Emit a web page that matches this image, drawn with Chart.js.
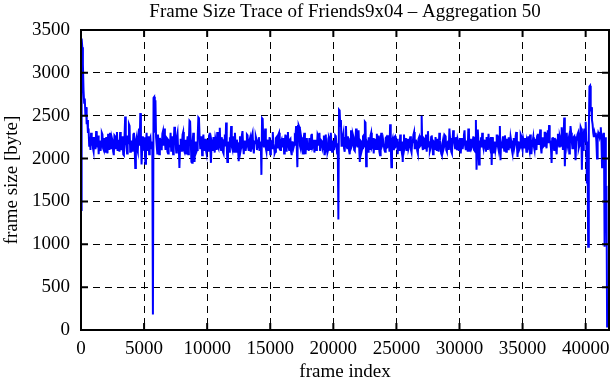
<!DOCTYPE html>
<html lang="en">
<head>
    <meta charset="UTF-8">
    <title>Frame Size Trace</title>
    <script src="https://cdn.jsdelivr.net/npm/chart.js@4.4.0/dist/chart.umd.min.js"></script>
    <style>
        body { margin: 0; background: #fff; }
    </style>
</head>
<body>
<canvas id="myChart" width="611" height="380"></canvas>
<script>
    // aggregation: one value every 50 frames
    var frameStep = 50;
    // frame size [byte], 20 values per 1000 frames
    var frameSize = [
        1400, 3400, 3300, 3100, 2800, 2650, 2700, 2500, 2600, 2400, 2450, 2300, 2350, 2150, 2250, 2100, 2300, 2150, 2250, 2120,
        2080, 2250, 2200, 2110, 2320, 2180, 2130, 2270, 2050, 2190, 2210, 2090, 2150, 2300, 2280, 2120, 2100, 2240, 2190, 2070,
        2250, 2130, 2060, 2290, 2170, 2100, 2300, 2160, 2120, 2240, 2210, 2080, 2040, 2270, 2260, 2110, 2150, 2310, 2090, 2180,
        2220, 2080, 2310, 2150, 2100, 2260, 2180, 2050, 2040, 2250, 2490, 2200, 2150, 2060, 2270, 2180, 2400, 2380, 2080, 2200,
        2200, 2090, 2130, 2280, 2300, 2150, 1890, 2200, 2240, 2110, 2080, 2250, 2350, 2150, 2530, 2200, 1930, 2100, 2260, 2180,
        2110, 2250, 1940, 2180, 2300, 2100, 2200, 2260, 2050, 2230, 2250, 2120, 2150, 2200, 180, 2710, 2720, 2300, 2680, 2250,
        2150, 2060, 2280, 2170, 2050, 2240, 2200, 2110, 2120, 2290, 2320, 2150, 2350, 2200, 2100, 2250, 2240, 2080, 2060, 2210,
        2200, 2130, 2300, 2090, 2140, 2260, 2050, 2180, 2370, 2200, 2180, 2070, 2260, 2300, 2100, 2160, 1890, 2120, 2230, 2090,
        2150, 2280, 2310, 2100, 2080, 2190, 2220, 2060, 2170, 2260, 2050, 2200, 2440, 2430, 2430, 1960, 1950, 2200, 2300, 2120,
        1960, 2180, 2200, 2080, 2100, 2250, 2480, 2470, 2250, 2120, 2130, 2260, 2040, 2180, 2280, 2100, 2170, 2230, 2100, 2060,
        2220, 2150, 2080, 2270, 2300, 2120, 1950, 2200, 2160, 2090, 2250, 2180, 2070, 2230, 2190, 2100, 2310, 2140, 2120, 2250,
        2360, 2140, 2100, 2250, 2200, 2080, 2060, 2220, 2280, 2140, 2420, 2160, 1960, 2200, 2150, 2080, 2250, 2190, 2380, 2140,
        2110, 2260, 2200, 2080, 2300, 2160, 2080, 2220, 2170, 2100, 1970, 2180, 2260, 2090, 2130, 2270, 2320, 2150, 2050, 2200,
        2200, 2090, 2150, 2280, 2270, 2130, 2090, 2210, 2240, 2080, 2120, 2270, 2300, 2140, 2060, 2190, 2180, 2260, 2230, 2100,
        2100, 2210, 2250, 2090, 2150, 2200, 1810, 2470, 2460, 2180, 2130, 2240, 2350, 2120, 2080, 2210, 2220, 2100, 2160, 2250,
        2050, 2190, 2200, 2120, 2310, 2180, 2140, 2060, 2080, 2240, 2250, 2130, 2170, 2280, 2300, 2110, 2100, 2200, 2220, 2140,
        2150, 2240, 2060, 2180, 2280, 2090, 2190, 2260, 2310, 2140, 2100, 2220, 2230, 2080, 2040, 2190, 2200, 2130, 2160, 2270,
        2260, 2380, 2380, 1900, 2380, 2390, 2370, 2150, 2120, 2250, 2200, 2110, 2060, 2230, 2300, 2140, 2050, 2180, 2240, 2100,
        2180, 2090, 2240, 2160, 2100, 2270, 2290, 2130, 2150, 2220, 2070, 2180, 2220, 2100, 2130, 2280, 2260, 2150, 2300, 2090,
        2090, 2210, 2200, 2120, 2150, 2270, 2040, 2190, 2280, 2130, 2170, 2080, 2110, 2250, 2230, 2100, 2300, 2180, 2080, 2200,
        2200, 2100, 2140, 2270, 2260, 2150, 2060, 2180, 1290, 2570, 2560, 2380, 2450, 2150, 2150, 2260, 2300, 2120, 2080, 2240,
        2380, 2150, 2120, 2260, 2200, 2090, 2050, 2230, 2330, 2140, 2160, 2280, 2250, 2100, 2090, 2200, 2350, 2170, 2140, 2250,
        2330, 2120, 1960, 2210, 2200, 2090, 2120, 2260, 2270, 2140, 2430, 2420, 1910, 2200, 2180, 2080, 2250, 2190, 2100, 2270,
        2300, 2130, 2150, 2240, 2060, 2180, 2230, 2100, 2180, 2290, 2100, 2160, 2270, 2080, 2040, 2220, 2300, 2140, 2160, 2210,
        2210, 2100, 2080, 2240, 2250, 2130, 2140, 2270, 2190, 2080, 2400, 2160, 1900, 2200, 2230, 2110, 2120, 2250, 2260, 2140,
        2150, 2230, 2050, 2180, 2200, 2090, 2280, 2150, 2100, 2200, 1960, 2180, 2280, 2130, 2170, 2240, 2090, 2160, 2230, 2110,
        2140, 2210, 2260, 2100, 2070, 2190, 2200, 2280, 2310, 2120, 2120, 2220, 2180, 2090, 2060, 2230, 2250, 2140, 2150, 2260,
        2500, 2150, 2100, 2240, 2230, 2110, 2160, 2280, 2080, 2190, 2320, 2130, 2200, 2090, 2120, 2250, 2270, 2160, 2050, 2200,
        2190, 2100, 2250, 2170, 2090, 2230, 2170, 2080, 2300, 2210, 2130, 2060, 2040, 2180, 2220, 2120, 2150, 2270, 2260, 2100,
        2080, 2190, 2200, 2100, 2350, 2240, 2140, 2080, 2060, 2210, 2330, 2200, 2180, 2120, 2250, 2150, 2100, 2230, 2200, 2090,
        2150, 2240, 2060, 2170, 2240, 2110, 2170, 2270, 2330, 2150, 2100, 2200, 2200, 2080, 2350, 2290, 2080, 2160, 2230, 2120,
        2140, 2200, 2260, 2100, 2090, 2240, 2450, 1870, 2100, 2340, 2200, 1930, 2090, 2200, 2250, 2130, 2300, 2160, 2120, 2210,
        2220, 2130, 2080, 2250, 2170, 2100, 2290, 2160, 2130, 2200, 2250, 1925, 2250, 2150, 2060, 2180, 2200, 2100, 2150, 2270,
        2270, 2140, 2100, 2200, 2380, 1980, 2200, 2120, 2200, 2260, 2140, 2090, 2270, 2180, 2080, 2230, 2190, 2110, 2250, 2160,
        2120, 2250, 2200, 2100, 2060, 2200, 2240, 2130, 2170, 2260, 2310, 2150, 2020, 2190, 2200, 2110, 2130, 2280, 2260, 2140,
        2100, 2230, 2190, 2120, 2240, 2170, 2080, 2200, 2170, 2260, 2130, 2090, 2280, 2200, 2050, 2160, 2200, 2250, 2140, 2100,
        2230, 2150, 2100, 2260, 2290, 2170, 2180, 2250, 2340, 2130, 2060, 2200, 2250, 2140, 2150, 2300, 2300, 2180, 2120, 2250,
        2330, 2180, 2390, 2200, 2200, 2120, 1950, 2230, 2250, 2150, 2100, 2240, 2200, 2110, 2050, 2220, 2290, 2180, 2140, 2260,
        2230, 2150, 2365, 2200, 2100, 2250, 2480, 1910, 2150, 2270, 2300, 2150, 2150, 2230, 2060, 2200, 2380, 2300, 2200, 2120,
        2120, 2250, 2260, 2150, 1980, 2200, 2200, 2280, 2300, 2120, 2150, 2250, 2370, 2350, 1870, 2200, 2100, 2300, 2350, 2200,
        2430, 2200, 1710, 2000, 970, 2300, 2840, 2850, 2550, 2600, 2450, 2400, 2300, 2250, 2300, 2260, 2300, 2200, 2000, 2250,
        2300, 2280, 2250, 2300, 2365, 2200, 1900, 2250, 2290, 2300, 970, 2250, 1640, 1650, 30
    ];
    var xTicks = [0, 5000, 10000, 15000, 20000, 25000, 30000, 35000, 40000];
    var yTicks = [0, 500, 1000, 1500, 2000, 2500, 3000, 3500];
    var xMax = 41850;

    var points = frameSize.map(function (v, i) {
        return {x: i * frameStep, y: v};
    });

    var serif = 'Liberation Serif';

    // gnuplot-like frame with inward ticks on all four sides
    var framePlugin = {
        id: 'frame',
        afterDatasetsDraw: function (chart) {
            var ctx = chart.ctx, a = chart.chartArea;
            var sx = chart.scales.x, sy = chart.scales.y;
            var len = 7;
            ctx.save();
            ctx.strokeStyle = '#000';
            ctx.lineWidth = 2;
            ctx.beginPath();
            xTicks.forEach(function (v) {
                var px = sx.getPixelForValue(v);
                ctx.moveTo(px, a.bottom); ctx.lineTo(px, a.bottom - len);
                ctx.moveTo(px, a.top); ctx.lineTo(px, a.top + len);
            });
            yTicks.forEach(function (v) {
                var py = sy.getPixelForValue(v);
                ctx.moveTo(a.left, py); ctx.lineTo(a.left + len, py);
                ctx.moveTo(a.right, py); ctx.lineTo(a.right - len, py);
            });
            ctx.stroke();
            ctx.strokeRect(a.left, a.top, a.right - a.left, a.bottom - a.top);
            // title
            ctx.fillStyle = '#000';
            ctx.font = '19px "' + serif + '"';
            ctx.textAlign = 'center';
            ctx.textBaseline = 'middle';
            ctx.fillText('Frame Size Trace of Friends9x04 \u2013 Aggregation 50', (a.left + a.right) / 2, 12);
            ctx.restore();
        }
    };

    var ctx = document.querySelector('#myChart').getContext('2d');
    new Chart(ctx, {
        type: 'line',
        data: {
            datasets: [{
                data: points,
                borderColor: 'rgb(0, 0, 255)',
                borderWidth: 2,
                pointRadius: 0,
                tension: 0,
                fill: false
            }]
        },
        options: {
            responsive: false,
            animation: false,
            layout: {padding: {top: 30, right: 2, left: 0, bottom: 0}},
            plugins: {legend: {display: false}, tooltip: {enabled: false}},
            scales: {
                x: {
                    type: 'linear',
                    min: 0,
                    max: xMax,
                    afterBuildTicks: function (s) {
                        s.ticks = xTicks.map(function (v) { return {value: v}; });
                    },
                    afterFit: function (s) {
                        s.height = 50;
                        s.paddingLeft = 0;
                        s.paddingRight = 0;
                    },
                    grid: {color: '#000', lineWidth: 1, drawTicks: false},
                    border: {display: false, dash: [7, 5]},
                    ticks: {
                        color: '#000', padding: 8, maxRotation: 0, autoSkip: false,
                        font: {family: serif, size: 19},
                        callback: function (v) { return String(v); }
                    },
                    title: {
                        display: true, text: 'frame index', color: '#000',
                        font: {family: serif, size: 19, lineHeight: 0.85}, padding: {top: 0, bottom: 0}
                    }
                },
                y: {
                    min: 0,
                    max: 3500,
                    afterBuildTicks: function (s) {
                        s.ticks = yTicks.map(function (v) { return {value: v}; });
                    },
                    afterFit: function (s) {
                        s.width = 81;
                        s.paddingTop = 0;
                        s.paddingBottom = 0;
                    },
                    grid: {color: '#000', lineWidth: 1, drawTicks: false},
                    border: {display: false, dash: [7, 5]},
                    ticks: {
                        color: '#000', padding: 11, autoSkip: false,
                        font: {family: serif, size: 19},
                        callback: function (v) { return String(v); }
                    },
                    title: {
                        display: true, text: 'frame size [byte]', color: '#000',
                        font: {family: serif, size: 19}, padding: {top: 1, bottom: 0}
                    }
                }
            }
        },
        plugins: [framePlugin]
    });
</script>
</body>
</html>
